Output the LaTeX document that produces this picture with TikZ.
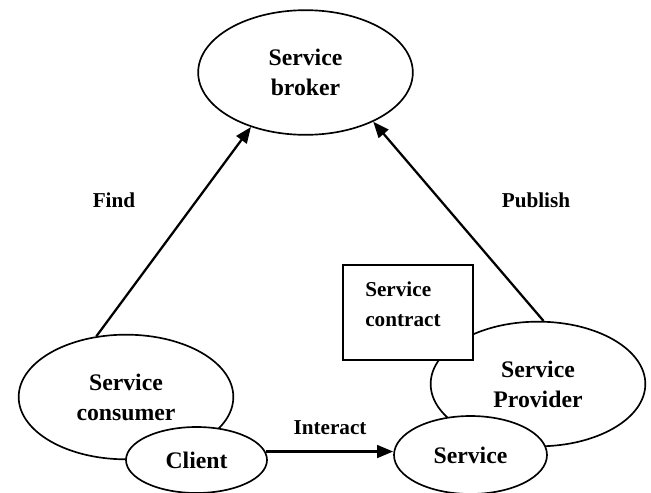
\documentclass[tikz,border=0pt]{standalone}
\usepackage{fontspec}
\setmainfont{Liberation Serif}
\usetikzlibrary{arrows.meta,shapes.geometric}
\begin{document}
\begin{tikzpicture}[x=0.75pt,y=-0.75pt,
  bigtext/.style={font=\fontsize{17.8}{22.5}\selectfont\bfseries},
  lbl/.style={font=\fontsize{15.9}{22.5}\selectfont\bfseries, inner sep=0pt, align=left},
  oval/.style={draw, ellipse, line width=1.25pt, fill=white, inner sep=0pt, align=center, bigtext},
  bigoval/.style={oval, minimum width=161pt, minimum height=93.5pt},
  boxshape/.style={draw, rectangle, line width=1.25pt, fill=white, minimum width=97.5pt, minimum height=71.25pt},
  arr/.style={line width=1.7pt, -{Triangle[length=12pt,width=9.5pt]}}]
\useasboundingbox (0,0) rectangle (651,493);

\node[bigoval] (broker) at (305.5,72.5) {Service\\broker};
\node[bigoval] (consumer) at (126,397) {Service\\consumer};
\node[oval, minimum width=105.75pt, minimum height=49.5pt] (client) at (196.5,460) {Client};
\node[bigoval] (provider) at (538,384) {Service\\Provider};
\node[oval, minimum width=114.75pt, minimum height=58.5pt] (service) at (470.5,455) {Service};
\node[boxshape] (contract) at (408,312.5) {};
\node[lbl, anchor=west] (contracttext) at (365,304) {Service\\contract};

\draw[arr] (consumer.116) -- (broker.225.5);
\draw[arr] (provider.85) -- (broker.324.5);
\draw[arr] (client.7) -- (client.7 -| service.west);

\node[lbl] (find) at (114,200) {Find};
\node[lbl] (publish) at (536,200) {Publish};
\node[lbl] (interact) at (330,428) {Interact};
\end{tikzpicture}
\end{document}
